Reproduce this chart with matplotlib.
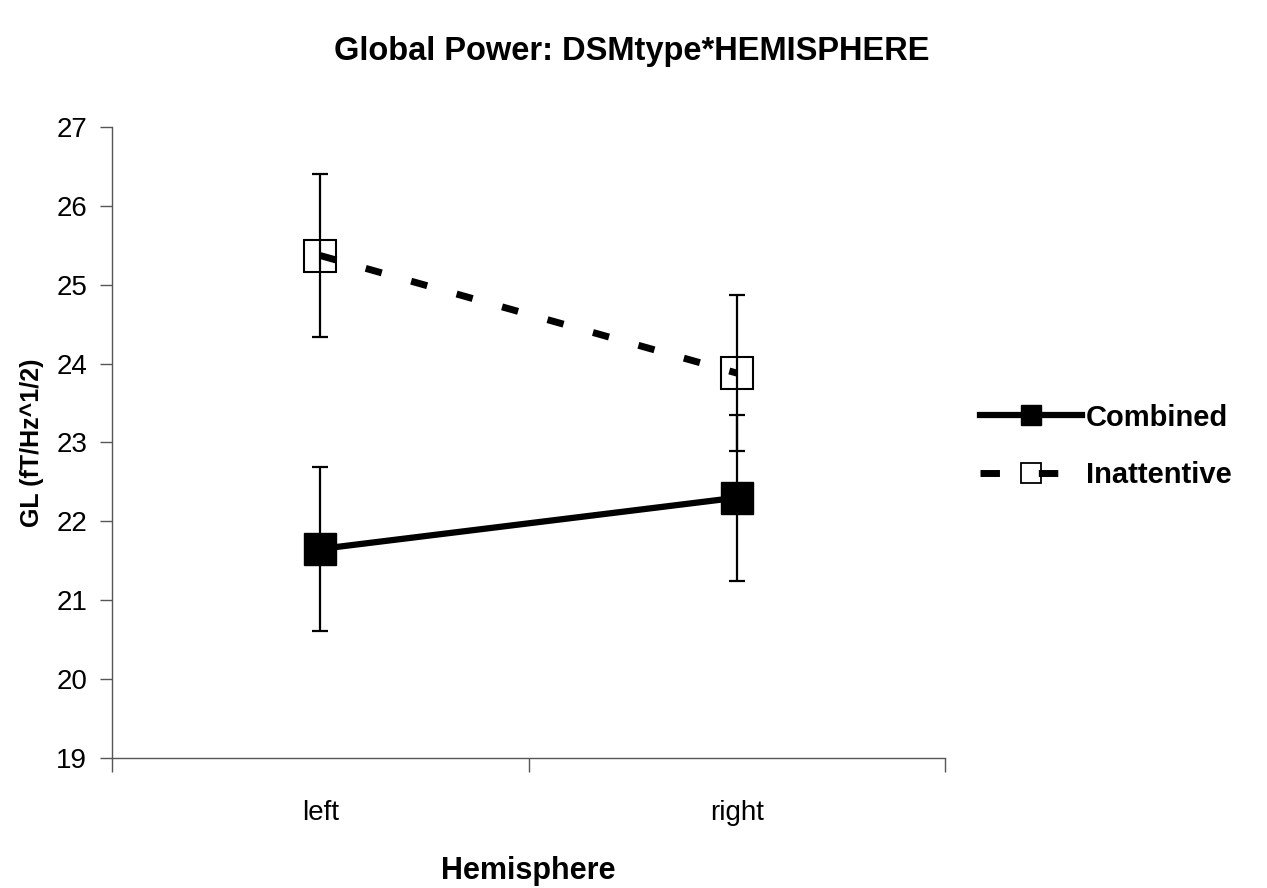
import matplotlib.pyplot as plt
from matplotlib.lines import Line2D
import numpy as np

plt.rcParams['font.family'] = ['Liberation Sans', 'DejaVu Sans']

categories = ["left", "right"]
combined = [21.65, 22.30]
combined_err = [1.04, 1.05]
inattentive = [25.37, 23.88]
inattentive_err = [1.03, 0.99]

fig = plt.figure(figsize=(12.67, 8.88), dpi=100)
ax = fig.add_axes([0.0884, 0.1464, 0.6575, 0.7106])

x = np.arange(len(categories))

ax.errorbar(x, combined, yerr=combined_err, fmt="none", ecolor="black",
            elinewidth=1.6, capsize=6, capthick=1.6, zorder=2)
ax.errorbar(x, inattentive, yerr=inattentive_err, fmt="none", ecolor="black",
            elinewidth=1.6, capsize=6, capthick=1.6, zorder=2)

ax.plot(x, combined, color="black", lw=4.5, marker="s", ms=23,
        mfc="black", mec="black", zorder=3)
ax.plot(x, inattentive, color="black", lw=5, ls=(0, (2.4, 4.4)), marker="s", ms=23,
        mfc="none", mec="black", mew=1.5, zorder=3)

ax.set_xlim(-0.5, 1.5)
ax.set_ylim(19, 27)
ax.set_yticks(np.arange(19, 28, 1))
ax.set_xticks(x)
ax.set_xticklabels(categories)
ax.set_xticks([-0.5, 0.5, 1.5], minor=True)
ax.tick_params(axis="x", which="major", length=0, pad=30, labelsize=20)
ax.tick_params(axis="x", which="minor", length=10, width=1, color="#555555")
ax.tick_params(axis="y", length=9, width=1, color="#555555", labelsize=20, pad=9)

for s in ["top", "right"]:
    ax.spines[s].set_visible(False)
for s in ["left", "bottom"]:
    ax.spines[s].set_color("#555555")
    ax.spines[s].set_linewidth(1)

ax.set_xlabel("Hemisphere", fontsize=22, fontweight="bold", labelpad=22)
ax.set_ylabel("GL (fT/Hz^1/2)", fontsize=18, fontweight="bold", labelpad=9)
fig.suptitle("Global Power: DSMtype*HEMISPHERE", fontsize=23.5, fontweight="bold",
             x=0.499, y=0.959)

# legend proxies so the dashes look like the original
handles = [
    Line2D([], [], color="black", lw=4.5, marker="s", ms=15, mfc="black", mec="black"),
    Line2D([], [], color="black", lw=5, ls=(0, (2.8, 5.6)), marker="s", ms=15,
           mfc="none", mec="black", mew=1.3),
]
ax.legend(handles, ["Combined", "Inattentive"], loc="center left",
          bbox_to_anchor=(1.01, 0.494), frameon=False,
          prop={"size": 21, "weight": "bold"},
          handlelength=3.5, handletextpad=0.15, labelspacing=1.0)

fig.savefig("out.png", dpi=100)
